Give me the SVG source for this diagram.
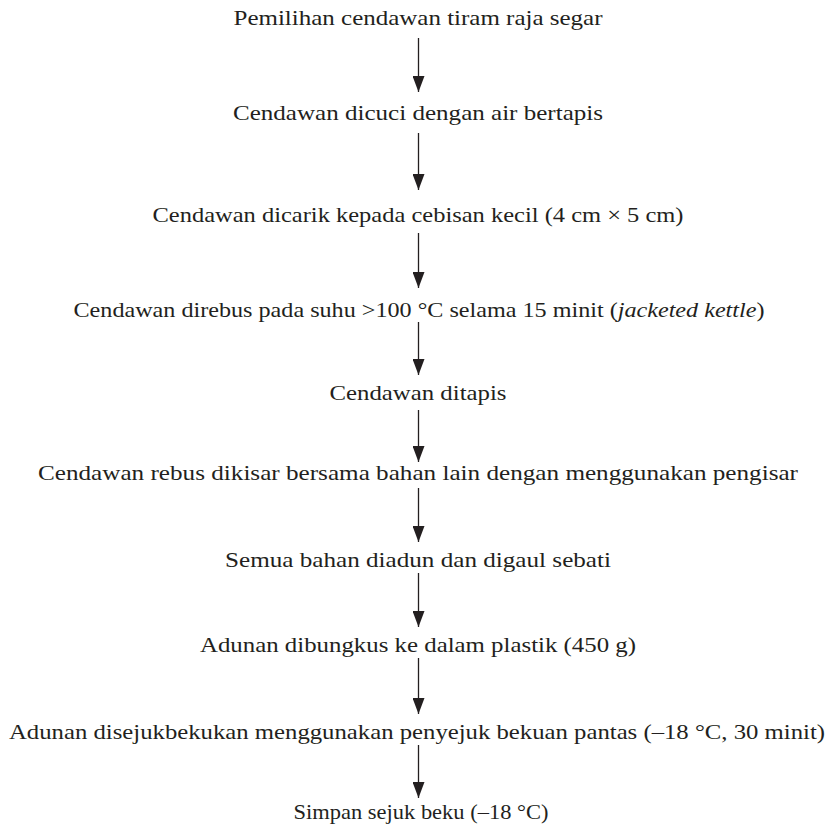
<svg xmlns="http://www.w3.org/2000/svg" width="831" height="825" viewBox="0 0 831 825">
<style>
  .t { font-family: "Liberation Serif", "Times New Roman", serif; font-size: 22px; fill: #231f20; text-anchor: middle; }
  .i { font-style: italic; }
  .c line { stroke: #231f20; stroke-width: 1.3; fill: none; }
</style>
<defs>
  <marker id="ah" viewBox="0 0 16 12" refX="16" refY="6" markerWidth="16" markerHeight="12" markerUnits="userSpaceOnUse" orient="auto">
    <path d="M0,0 L16,6 L0,12 z" fill="#231f20"/>
  </marker>
</defs>
<rect width="831" height="825" fill="#ffffff"/>
<g id="n1"><text class="t" x="418" y="25" textLength="369" lengthAdjust="spacingAndGlyphs">Pemilihan cendawan tiram raja segar</text></g>
<g id="n2"><text class="t" x="418" y="120" textLength="370" lengthAdjust="spacingAndGlyphs">Cendawan dicuci dengan air bertapis</text></g>
<g id="n3"><text class="t" x="418" y="222" textLength="531" lengthAdjust="spacingAndGlyphs">Cendawan dicarik kepada cebisan kecil (4 cm × 5 cm)</text></g>
<g id="n4"><text class="t" x="419" y="317" textLength="691" lengthAdjust="spacingAndGlyphs">Cendawan direbus pada suhu &gt;100 °C selama 15 minit (<tspan class="i">jacketed kettle</tspan>)</text></g>
<g id="n5"><text class="t" x="418" y="400" textLength="177" lengthAdjust="spacingAndGlyphs">Cendawan ditapis</text></g>
<g id="n6"><text class="t" x="418" y="480" textLength="760" lengthAdjust="spacingAndGlyphs">Cendawan rebus dikisar bersama bahan lain dengan menggunakan pengisar</text></g>
<g id="n7"><text class="t" x="418" y="567" textLength="386" lengthAdjust="spacingAndGlyphs">Semua bahan diadun dan digaul sebati</text></g>
<g id="n8"><text class="t" x="418" y="652" textLength="436" lengthAdjust="spacingAndGlyphs">Adunan dibungkus ke dalam plastik (450 g)</text></g>
<g id="n9"><text class="t" x="417" y="739" textLength="816" lengthAdjust="spacingAndGlyphs">Adunan disejukbekukan menggunakan penyejuk bekuan pantas (–18 °C, 30 minit)</text></g>
<g id="n10"><text class="t" x="421" y="819" textLength="255" lengthAdjust="spacingAndGlyphs">Simpan sejuk beku (–18 °C)</text></g>
<g id="connectors" class="c">
  <line x1="418.5" y1="38" x2="418.5" y2="92" marker-end="url(#ah)"/>
  <line x1="418.5" y1="133" x2="418.5" y2="190" marker-end="url(#ah)"/>
  <line x1="418.5" y1="233" x2="418.5" y2="288" marker-end="url(#ah)"/>
  <line x1="418.5" y1="322" x2="418.5" y2="375" marker-end="url(#ah)"/>
  <line x1="418.5" y1="410" x2="418.5" y2="462" marker-end="url(#ah)"/>
  <line x1="418.5" y1="488" x2="418.5" y2="542" marker-end="url(#ah)"/>
  <line x1="418.5" y1="573" x2="418.5" y2="627" marker-end="url(#ah)"/>
  <line x1="418.5" y1="658" x2="418.5" y2="714" marker-end="url(#ah)"/>
  <line x1="418.5" y1="745" x2="418.5" y2="798" marker-end="url(#ah)"/>
</g>
</svg>
